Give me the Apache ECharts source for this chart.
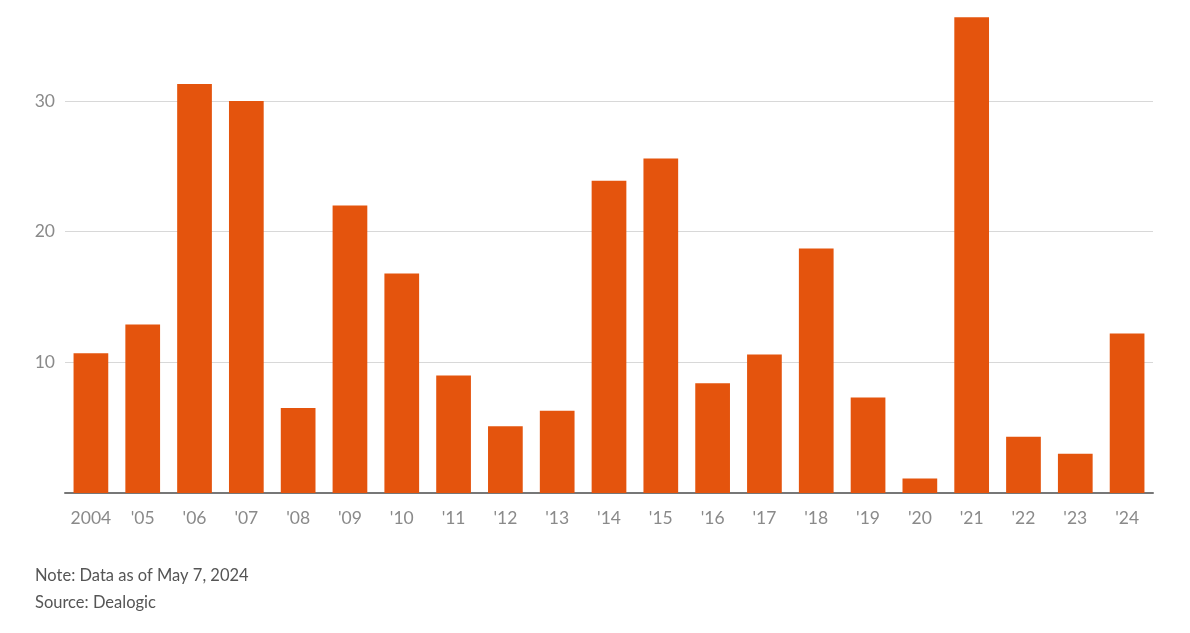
<!DOCTYPE html>
<html>
<head>
<meta charset="utf-8">
<script src="https://cdn.jsdelivr.net/npm/echarts@6/dist/echarts.min.js"></script>
<style>
html,body{margin:0;padding:0;background:#fff;}
#chart{width:1190px;height:633px;}
</style>
</head>
<body>
<div id="chart"></div>
<script>
const categories = ["2004","'05","'06","'07","'08","'09","'10","'11","'12","'13","'14","'15","'16","'17","'18","'19","'20","'21","'22","'23","'24"];
const values = [10.7,12.9,31.3,30.0,6.5,22.0,16.8,9.0,5.1,6.3,23.9,25.6,8.4,10.6,18.7,7.3,1.1,36.4,4.3,3.0,12.2];
const noteLines = ["Note: Data as of May 7, 2024", "Source: Dealogic"];

const chart = echarts.init(document.getElementById('chart'));
const FONT = 'Lato';
chart.setOption({
  animation: false,
  backgroundColor: '#fff',
  grid: {left: 65, right: 37, top: 16, bottom: 140},
  xAxis: {
    type: 'category',
    data: categories,
    axisLine: {lineStyle: {color: '#777', width: 2}},
    axisTick: {show: false},
    axisLabel: {color: '#8a8a8a', fontSize: 17.5, fontFamily: FONT, margin: 16, interval: 0, hideOverlap: false}
  },
  yAxis: {
    type: 'value',
    min: 0,
    max: 36.5,
    interval: 10,
    axisLine: {show: false},
    axisTick: {show: false},
    axisLabel: {color: '#8a8a8a', fontSize: 17.5, fontFamily: FONT, margin: 10, showMaxLabel: false, showMinLabel: false},
    splitLine: {lineStyle: {color: '#d8d8d8', width: 1}, showMaxLine: false, showMinLine: false}
  },
  series: [{
    type: 'bar',
    data: values,
    barCategoryGap: '33%',
    itemStyle: {color: '#E4540D'}
  }],
  graphic: [
    {type: 'text', left: 35, top: 567, style: {text: noteLines[0], fill: '#555', font: '16.5px ' + FONT}},
    {type: 'text', left: 35, top: 594, style: {text: noteLines[1], fill: '#555', font: '16.5px ' + FONT}}
  ]
});
</script>
</body>
</html>
